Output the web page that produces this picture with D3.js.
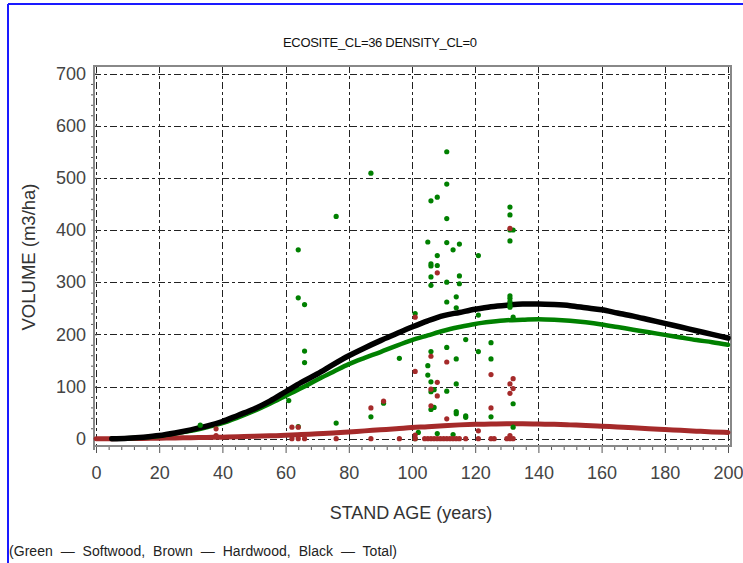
<!DOCTYPE html>
<html>
<head>
<meta charset="utf-8">
<script src="https://cdn.jsdelivr.net/npm/d3@7"></script>
<style>
  body { margin: 0; background: #fff; }
  svg { display: block; }
  text { font-family: "Liberation Sans", Arial, sans-serif; }
</style>
</head>
<body>
<svg id="chart" width="743" height="563"></svg>
<script>
// fitted curves (every 5 years)
let curveAges = [0,5,10,15,20,25,30,35,40,45,50,55,60,65,70,75,80,85,90,95,100,
                 105,110,115,120,125,130,135,140,145,150,155,160,165,170,175,180,185,190,195,200];
let totalVol = [null,0,1,3,6,11,17,24,33,45,57,72,90,108,124,142,159,174,188,201,214,
                226,236,242,248,253,256,258,258,257,255,251,247,241,235,228,221,214,207,200,193];
let softVol  = [null,0,1,2.5,5,10,15,22,30,41,53,67,82,97,113,128,143,155,166,178,189,
                198,207,214,220,224,227,228,229,228,226,223,219,214,209,204,199,194,189,185,180];
let hardVol  = [0,0.1,0.3,0.6,1,1.5,2,2.5,3,3.7,4.5,5.5,6.5,8,9.5,11,13,15,17,19,21.5,
                23,25,26.5,27.5,28,28.5,28.5,28,27.5,26.5,25.5,24,22.5,21,19,17.5,16,14.5,13,12];

// observed plots [age, volume]
let softPoints = [[33,26],[61,73],[64,362],[64,270],[64,23],[66,257],[66,168],[66,146],[76,426],[76,30],
  [87,509],[87,42],[91,68],[96,154],[101,240],[101,0],[102,12],[105,377],[105,140],[105,122],
  [106,456],[106,335],[106,331],[106,310],[106,294],[106,167],[106,109],[106,90],[106,56],[107,94],
  [107,60],[108,463],[108,351],[108,332],[108,10],[111,550],[111,488],[111,422],[111,376],[111,300],
  [111,262],[111,175],[111,91],[113,362],[113,8],[114,272],[114,251],[114,153],[114,105],[114,52],
  [114,48],[115,373],[115,312],[115,297],[117,190],[117,44],[117,41],[121,351],[121,237],[121,167],
  [125,184],[125,153],[125,42],[131,444],[131,429],[131,400],[132,400],[131,379],[131,274],[131,269],
  [131,263],[131,256],[131,252],[132,233],[132,67],[132,22]];
let hardPoints = [[38,19],[38,6],[62,22],[62,0],[64,22],[64,0],[66,0],[76,0],[87,59],[87,0],
  [91,72],[96,0],[101,233],[101,129],[101,7],[101,0],[104,0],[105,0],[106,158],[106,95],
  [106,63],[106,0],[107,0],[108,318],[108,108],[108,82],[108,0],[109,0],[110,0],[111,147],
  [111,38],[111,0],[112,0],[113,0],[114,0],[115,0],[117,0],[121,15],[121,0],[125,123],
  [125,59],[125,0],[126,0],[130,0],[131,403],[131,105],[131,87],[131,6],[131,0],[132,115],
  [132,96],[132,0]];

let xTicks = [0,20,40,60,80,100,120,140,160,180,200];
let yTicks = [0,100,200,300,400,500,600,700];

let svg = d3.select("#chart");

// outer blue border (left and top)
svg.append("line").attr("x1",8).attr("y1",4).attr("x2",8).attr("y2",563)
   .attr("stroke","#1a1aff").attr("stroke-width",2);
svg.append("line").attr("x1",8).attr("y1",4).attr("x2",743).attr("y2",4)
   .attr("stroke","#1a1aff").attr("stroke-width",2);

let plotLeft = 94, plotRight = 731, plotTop = 66, plotBottom = 446;

let xScale = d3.scaleLinear().domain([0,200]).range([96,728]);
let yScale = d3.scaleLinear().domain([0,700]).range([438.7,73.5]);

// grid (dash-dot)
let grid = svg.append("g").attr("stroke","#222").attr("stroke-width",1)
              .attr("stroke-dasharray","7,3,3,3");
grid.selectAll(".hg").data(yTicks).enter().append("line")
    .attr("x1",plotLeft).attr("x2",plotRight)
    .attr("y1",d => Math.round(yScale(d))+0.5).attr("y2",d => Math.round(yScale(d))+0.5);
grid.selectAll(".vg").data(xTicks).enter().append("line")
    .attr("y1",plotTop).attr("y2",plotBottom)
    .attr("x1",d => Math.round(xScale(d))+0.5).attr("x2",d => Math.round(xScale(d))+0.5);

// frame
svg.append("line").attr("x1",plotLeft).attr("x2",plotRight+1).attr("y1",plotTop).attr("y2",plotTop)
   .attr("stroke","#888").attr("stroke-width",2);
svg.append("line").attr("x1",plotRight).attr("x2",plotRight).attr("y1",plotTop).attr("y2",plotBottom)
   .attr("stroke","#888").attr("stroke-width",2);

// axes
let minorX = d3.range(0,201,4).filter(v => v % 20 != 0);
let minorY = d3.range(0,701,20).filter(v => v % 100 != 0);

let gx = svg.append("g").attr("transform","translate(0,"+plotBottom+")");
gx.call(d3.axisBottom(xScale).tickValues(xTicks).tickSize(7).tickPadding(13).tickSizeOuter(0));
let gxm = svg.append("g").attr("transform","translate(0,"+plotBottom+")");
gxm.call(d3.axisBottom(xScale).tickValues(minorX).tickSize(4).tickFormat(""));

let gy = svg.append("g").attr("transform","translate("+plotLeft+",0)");
gy.call(d3.axisLeft(yScale).tickValues(yTicks).tickSize(5).tickPadding(3).tickSizeOuter(0));
let gym = svg.append("g").attr("transform","translate("+plotLeft+",0)");
gym.call(d3.axisLeft(yScale).tickValues(minorY).tickSize(3).tickFormat(""));

svg.selectAll(".domain").remove();
svg.selectAll(".tick line").attr("stroke","#555");
gy.selectAll(".tick line").attr("x2",3);
svg.selectAll(".tick text").attr("font-size",18).attr("fill","#444")
   .attr("font-family","'Liberation Sans', Arial, sans-serif");

svg.append("line").attr("x1",plotLeft).attr("x2",plotLeft).attr("y1",plotTop-1).attr("y2",plotBottom+4)
   .attr("stroke","#888").attr("stroke-width",2);
svg.append("line").attr("x1",plotLeft).attr("x2",plotRight+1).attr("y1",plotBottom).attr("y2",plotBottom)
   .attr("stroke","#888").attr("stroke-width",2);

// curves
let lineGen = d3.line()
    .defined(d => d[1] !== null)
    .x(d => xScale(d[0]))
    .y(d => yScale(d[1]))
    .curve(d3.curveMonotoneX);

let curves = [
  {vals: hardVol,  color: "#a52a2a", w: 5},
  {vals: softVol,  color: "#008000", w: 4.5},
  {vals: totalVol, color: "#000000", w: 5.5}
];
curves.forEach(function(c){
  svg.append("path")
     .datum(curveAges.map((a,i) => [a, c.vals[i]]))
     .attr("d", lineGen)
     .attr("fill","none")
     .attr("stroke", c.color)
     .attr("stroke-width", c.w)
     .attr("stroke-linecap","round");
});

// observed points
svg.selectAll(".sw").data(softPoints).enter().append("circle")
   .attr("cx", d => xScale(d[0])).attr("cy", d => yScale(d[1]))
   .attr("r", 2.6).attr("fill","#008000");
svg.selectAll(".hw").data(hardPoints).enter().append("circle")
   .attr("cx", d => xScale(d[0])).attr("cy", d => yScale(d[1]))
   .attr("r", 2.6).attr("fill","#a52a2a");

// titles
svg.append("text").attr("x",380).attr("y",47).attr("text-anchor","middle")
   .attr("font-family","'DejaVu Sans Condensed', 'DejaVu Sans', sans-serif")
   .style("font-stretch","condensed").attr("font-size",13)
   .attr("textLength",194).attr("lengthAdjust","spacing")
   .attr("fill","#111")
   .text("ECOSITE_CL=36 DENSITY_CL=0");

svg.append("text").attr("x",411).attr("y",518.5).attr("text-anchor","middle")
   .attr("font-size",18).attr("fill","#333")
   .text("STAND AGE (years)");

svg.append("text").attr("transform","translate(34.5,257) rotate(-90)")
   .attr("text-anchor","middle").attr("font-size",18.5).attr("fill","#333")
   .text("VOLUME (m3/ha)");

svg.append("text").attr("x",9).attr("y",555.5)
   .attr("font-size",14).attr("fill","#222")
   .style("white-space","pre")
   .attr("textLength",388).attr("lengthAdjust","spacing")
   .text("(Green  \u2014  Softwood,  Brown  \u2014  Hardwood,  Black  \u2014  Total)");
</script>
</body>
</html>
